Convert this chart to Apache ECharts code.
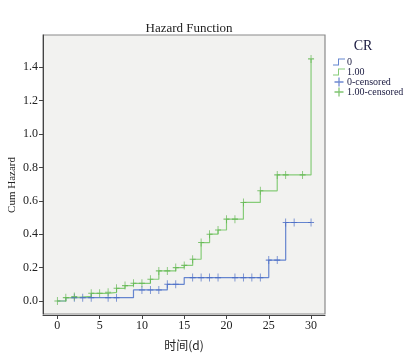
<!DOCTYPE html>
<html>
<head>
<meta charset="utf-8">
<script src="https://cdn.jsdelivr.net/npm/echarts@6/dist/echarts.min.js"></script>
<style>html,body{margin:0;padding:0;background:#fff;}#c{width:407px;height:355px;}</style>
</head>
<body>
<div id="c"></div>
<script>
// Step points: [time, cumulative hazard after the step]
var blueSteps = [[0,0],[1,0.02],[9,0.066],[13,0.10],[15,0.14],[25,0.245],[27,0.47],[30,0.47]];
var greenSteps = [[0,0],[1,0.02],[2,0.027],[4,0.046],[6,0.052],[7,0.076],[8,0.092],[9,0.106],[11,0.13],[12,0.18],[14,0.2],[15,0.213],[16,0.25],[17,0.35],[18,0.40],[19,0.425],[20,0.49],[22,0.59],[24,0.66],[26,0.755],[30,1.45]];
// Censored marks
var blueCensorTimes = [2,3,4,6,7,10,11,12,13,14,16,17,18,19,21,22,23,24,25,26,27,28,30];
var greenCensorTimes = [0,1,2,4,5,6,7,8,9,10,11,12,13,14,15,16,17,18,19,20,21,22,24,26,27,29,30];
var xTicks = [0,5,10,15,20,25,30];
var yTicks = [0,0.2,0.4,0.6,0.8,1.0,1.2,1.4];
var seriesNames = ['0','1.00','0-censored','1.00-censored'];
var yAxisTitle = 'Cum Hazard';

function valueAt(steps, t){
  var v = steps[0][1];
  for (var i=0;i<steps.length;i++){ if (steps[i][0] <= t) v = steps[i][1]; }
  return v;
}
var blueCensor = blueCensorTimes.map(function(t){return [t, valueAt(blueSteps,t)];});
var greenCensor = greenCensorTimes.map(function(t){return [t, valueAt(greenSteps,t)];});

var BLUE = '#6585cf', BLUE_M = '#4a6cc4';
var GREEN = '#86cc78', GREEN_M = '#5fb54e';
var plus = 'path://M4.3,0H5.7V10H4.3Z M0,4.3H10V5.7H0Z';
var stepIcon = 'path://M0,8H5V2H12V3H6V9H0Z';
var serif = '"Liberation Serif","DejaVu Serif",serif';

var chart = echarts.init(document.getElementById('c'), null, {renderer:'canvas'});
chart.setOption({
  animation:false,
  backgroundColor:'#fff',
  title:[
    {text:'Hazard Function', left:184, top:17, textAlign:'center',
     textStyle:{fontFamily:serif, fontSize:13, fontWeight:'normal', color:'#222'}},
    {text:'CR', left:358, top:34, textAlign:'center',
     textStyle:{fontFamily:serif, fontSize:14, fontWeight:'normal', color:'#1a1a40'}}
  ],
  graphic:[{
    type:'text', x:12, y:185, rotation:Math.PI/2,
    style:{text:yAxisTitle, fontFamily:serif, fontSize:11, fill:'#222', align:'center', verticalAlign:'middle'}
  }],
  legend:{
    orient:'vertical', left:328, top:52, itemGap:0, itemWidth:12, itemHeight:9,
    textStyle:{fontFamily:serif, fontSize:10, color:'#1a1a40', padding:[0,0,0,-3]},
    data:[
      {name:seriesNames[0], icon:stepIcon},
      {name:seriesNames[1], icon:stepIcon},
      {name:seriesNames[2], icon:plus},
      {name:seriesNames[3], icon:plus}
    ]
  },
  grid:{left:43, top:35, width:282, height:279, outerBoundsMode:'none', containLabel:false,
        show:true, backgroundColor:'#f2f2f0', borderColor:'#8a8a8a', borderWidth:1.2},
  xAxis:{
    type:'value', min:-1.7, max:31.65, name:'时间(d)', nameLocation:'middle', nameGap:24,
    nameTextStyle:{fontFamily:'"Noto Sans CJK SC",sans-serif', fontSize:12, color:'#222'},
    splitLine:{show:false},
    axisLine:{show:true, onZero:false, lineStyle:{color:'#444', width:1}},
    axisTick:{show:true, length:4, customValues:xTicks, lineStyle:{color:'#444'}},
    axisLabel:{customValues:xTicks, fontFamily:serif, fontSize:12, color:'#222', margin:5},
    offset:1
  },
  yAxis:{
    type:'value', min:-0.078, max:1.593,
    splitLine:{show:false},
    axisLine:{show:true, onZero:false, lineStyle:{color:'#444', width:1}},
    axisTick:{show:true, length:4, customValues:yTicks, lineStyle:{color:'#444'}},
    axisLabel:{customValues:yTicks, fontFamily:serif, fontSize:12, color:'#222', margin:5,
      formatter:function(v){return v.toFixed(1);}}
  },
  series:[
    {name:seriesNames[0], type:'line', step:'end', data:blueSteps, symbol:'none',
     lineStyle:{color:BLUE, width:1.2}, itemStyle:{color:BLUE}, z:2},
    {name:seriesNames[1], type:'line', step:'end', data:greenSteps, symbol:'none',
     lineStyle:{color:GREEN, width:1.2}, itemStyle:{color:GREEN}, z:2},
    {name:seriesNames[2], type:'scatter', data:blueCensor, symbol:plus, symbolSize:[6,8],
     itemStyle:{color:BLUE_M}, z:3},
    {name:seriesNames[3], type:'scatter', data:greenCensor, symbol:plus, symbolSize:[6,8],
     itemStyle:{color:GREEN_M}, z:3}
  ]
});
</script>
</body>
</html>
